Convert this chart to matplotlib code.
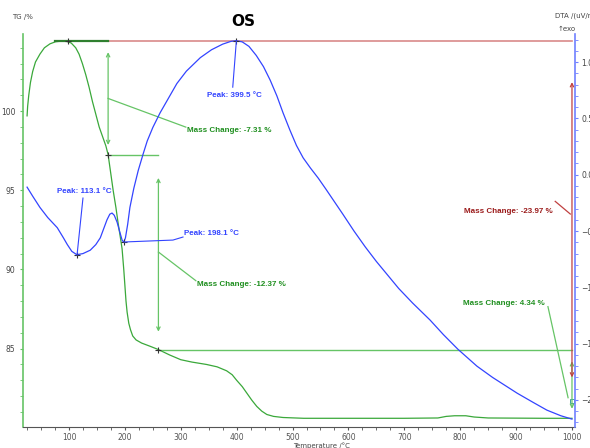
import numpy as np
import matplotlib.pyplot as plt
from matplotlib.ticker import MultipleLocator

# TG curve (temperature /°C, mass /%)
tg_temp = [25, 26, 28, 31, 35, 40, 48, 56, 66, 76, 86, 96, 104, 112, 118, 124, 130, 136,
           142, 148, 154, 160, 166, 170, 175, 179, 184, 188, 192, 195, 198, 200, 202, 204,
           207, 210, 214, 220, 230, 245, 260, 280, 300, 320, 346, 365, 382, 392, 400, 410,
           418, 427, 436, 445, 454, 466, 483, 520, 600, 700, 760, 775, 790, 810, 825, 850,
           950, 1000]
tg_mass = [99.7, 100.3, 101.0, 101.8, 102.5, 103.1, 103.6, 104.0, 104.25, 104.38, 104.42,
           104.4, 104.3, 104.0, 103.6, 103.0, 102.3, 101.5, 100.6, 99.8, 99.0, 98.4, 97.8,
           97.25, 96.0, 95.0, 93.9, 92.9, 92.0, 91.3, 90.0, 89.0, 88.0, 87.3, 86.6, 86.2,
           85.8, 85.55, 85.35, 85.15, 84.94, 84.6, 84.3, 84.15, 84.0, 83.85, 83.6, 83.35,
           83.0, 82.6, 82.2, 81.75, 81.35, 81.05, 80.84, 80.72, 80.65, 80.6, 80.6, 80.6,
           80.62, 80.72, 80.76, 80.76, 80.68, 80.62, 80.6, 80.6]

# DTA curve (temperature /°C, uV/mg)
dta_temp = [25, 35, 48, 62, 79, 90, 97, 105, 114, 125, 138, 148, 156, 162, 168, 173, 177,
            181, 186, 191, 195, 198, 201, 205, 209, 216, 224, 233, 240, 250, 263, 278, 293,
            310, 335, 355, 375, 390, 399.5, 410, 422, 435, 448, 460, 472, 483, 495, 507,
            519, 532, 546, 560, 575, 590, 610, 630, 650, 670, 690, 715, 746, 770, 796, 830,
            858, 880, 902, 930, 955, 980, 1000]
dta_val = [-0.11, -0.19, -0.29, -0.38, -0.47, -0.56, -0.62, -0.68, -0.71, -0.70, -0.67,
           -0.62, -0.56, -0.48, -0.40, -0.35, -0.34, -0.36, -0.42, -0.51, -0.58, -0.60,
           -0.56, -0.44, -0.29, -0.12, 0.04, 0.19, 0.30, 0.42, 0.55, 0.68, 0.81, 0.92, 1.04,
           1.11, 1.16, 1.185, 1.19, 1.18, 1.14, 1.06, 0.96, 0.84, 0.70, 0.55, 0.40, 0.26,
           0.15, 0.06, -0.03, -0.13, -0.24, -0.35, -0.50, -0.64, -0.77, -0.89, -1.01, -1.14,
           -1.29, -1.42, -1.55, -1.70, -1.80, -1.87, -1.94, -2.02, -2.09, -2.14, -2.17]

# annotation values
tg_top = 104.42
step1 = (170, 97.2)
step2 = (260, 84.94)
peaks = [(114.4, -0.713, "Peak: 113.1 °C"), (198.4, -0.597, "Peak: 198.1 °C"),
         (399.5, 1.19, "Peak: 399.5 °C")]

GREEN = '#3aa83a'
LGREEN = '#66c466'
TGREEN = '#1f8f1f'
BLUE = '#3344ff'
RED = '#c04040'
FAM = ['Liberation Sans', 'DejaVu Sans']
FS = 5.8

fig = plt.figure(figsize=(5.9, 4.48), dpi=100)
ax = fig.add_axes([23/590, 21/448, 552/590, 393/448])
ax2 = ax.twinx()

ax.plot(tg_temp, tg_mass, color=GREEN, lw=0.9)
ax2.plot(dta_temp, dta_val, color=BLUE, lw=0.9)

ax.set_xlim(17.7, 1005.4)
ax.set_ylim(80.05, 104.87)
ax2.set_ylim(-2.24, 1.25)

ax.spines['top'].set_visible(False)
ax2.spines['top'].set_visible(False)
ax.spines['right'].set_visible(False)
ax2.spines['left'].set_visible(False)
ax2.spines['bottom'].set_visible(False)
ax.spines['left'].set_color(LGREEN)
ax.spines['left'].set_linewidth(1.2)
ax2.spines['right'].set_color('#7080ff')
ax2.spines['right'].set_linewidth(1.2)
ax.spines['bottom'].set_color('#555555')

ax.xaxis.set_major_locator(MultipleLocator(100))
ax.xaxis.set_minor_locator(MultipleLocator(25))
ax.yaxis.set_minor_locator(MultipleLocator(1))
ax2.yaxis.set_major_locator(MultipleLocator(0.5))
ax2.yaxis.set_minor_locator(MultipleLocator(0.1))
ax.set_yticks([85, 90, 95, 100])
ax.tick_params(axis='x', which='both', labelsize=5.5, colors='#555555', length=2.5, pad=2)
ax.tick_params(axis='y', which='both', labelsize=5.5, colors=LGREEN, labelcolor='#444444',
               length=2.5, pad=3)
ax2.tick_params(axis='y', which='both', labelsize=5.5, colors='#7080ff', labelcolor='#444444',
                length=2.5, pad=2)

# plateau / step lines
ax.plot([75, 1000], [tg_top, tg_top], color='#d98a8a', lw=1.2)
ax.plot([75, 170], [tg_top, tg_top], color='#2f7f2f', lw=1.6)
ax.plot([step1[0], step2[0]], [step1[1], step1[1]], color=LGREEN, lw=1.0)
ax.plot([step2[0], 1000], [step2[1], step2[1]], color=LGREEN, lw=1.0)
ax.plot([step1[0], step2[0], 98], [step1[1], step2[1], tg_top], '+', color='#333333', ms=4, mew=0.8)

arrow_g = dict(arrowstyle='<->', color=LGREEN, lw=0.9, mutation_scale=6, shrinkA=0, shrinkB=0)
ax.annotate('', xy=(170, 103.72), xytext=(170, 97.86), arrowprops=arrow_g)
ax.annotate('', xy=(260, 95.78), xytext=(260, 86.07), arrowprops=arrow_g)
ax.annotate('', xy=(1000, 84.2), xytext=(1000, 81.2), arrowprops=arrow_g)
ax.annotate('', xy=(1000, 101.83), xytext=(1000, 83.18),
            arrowprops=dict(arrowstyle='<->', color=RED, lw=0.9, mutation_scale=6,
                            shrinkA=0, shrinkB=0))
ax.plot([1000], [81.7], 's', mfc='none', mec='#40a0a0', ms=3, mew=0.7)

# mass change labels
ax.plot([170, 309], [100.8, 98.99], color=LGREEN, lw=0.9)
ax.text(311, 98.8, "Mass Change: -7.31 %", color=TGREEN, fontsize=FS, fontweight='bold',
        family=FAM, va='center', ha='left')
ax.plot([260, 327], [91.1, 89.29], color=LGREEN, lw=0.9)
ax.text(329, 89.04, "Mass Change: -12.37 %", color=TGREEN, fontsize=FS, fontweight='bold',
        family=FAM, va='center', ha='left')
ax.plot([957, 993], [87.65, 81.9], color=LGREEN, lw=0.9)
ax.text(952, 87.84, "Mass Change: 4.34 %", color=TGREEN, fontsize=FS, fontweight='bold',
        family=FAM, va='center', ha='right')
ax.plot([970, 997], [94.3, 93.5], color=RED, lw=0.9)
ax.text(966, 93.64, "Mass Change: -23.97 %", color='#9b1b1b', fontsize=FS, fontweight='bold',
        family=FAM, va='center', ha='right')

# DTA peak labels
for px, py, lab in peaks:
    ax2.plot([px], [py], '+', color='#333333', ms=4, mew=0.8)
ax2.plot([125, 114.4], [-0.207, -0.713], color=BLUE, lw=0.8)
ax2.text(78.6, -0.153, peaks[0][2], color=BLUE, fontsize=FS, fontweight='bold',
         family=FAM, va='center', ha='left')
ax2.plot([198.4, 286, 304], [-0.597, -0.58, -0.553], color=BLUE, lw=0.8)
ax2.text(306, -0.526, peaks[1][2], color=BLUE, fontsize=FS, fontweight='bold',
         family=FAM, va='center', ha='left')
ax2.plot([393, 399.5], [0.778, 1.19], color=BLUE, lw=0.8)
ax2.text(347, 0.707, peaks[2][2], color=BLUE, fontsize=FS, fontweight='bold',
         family=FAM, va='center', ha='left')

fig.text(243/590, 1 - 22/448, "OS", fontsize=11, fontweight='bold', ha='center', va='center')
fig.text(22/590, 1 - 17/448, "TG /%", fontsize=5, color='#444444', ha='center', va='center')
fig.text(555/590, 1 - 16/448, "DTA /(uV/mg)", fontsize=5, color='#444444', ha='left', va='center')
fig.text(567/590, 1 - 29/448, "↑exo", fontsize=5, color='#444444', ha='center', va='center')
fig.text(322/590, 1 - 446/448, "Temperature /°C", fontsize=5, color='#444444',
         ha='center', va='center')

fig.savefig('out.png', dpi=100)
